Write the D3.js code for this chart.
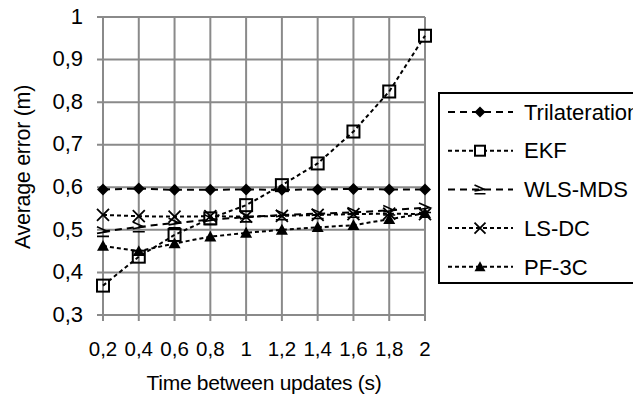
<!DOCTYPE html>
<html>
<head>
<meta charset="utf-8">
<script src="https://cdn.jsdelivr.net/npm/d3@7"></script>
<style>
  html, body { margin: 0; padding: 0; background: #fff; }
  svg { display: block; font-family: "Liberation Sans", Arial, sans-serif; }
</style>
</head>
<body>
<div id="chart"></div>
<script>
// data
const times = [0.2, 0.4, 0.6, 0.8, 1, 1.2, 1.4, 1.6, 1.8, 2];
const timeLabels = ["0,2", "0,4", "0,6", "0,8", "1", "1,2", "1,4", "1,6", "1,8", "2"];
const yTicks = [0.3, 0.4, 0.5, 0.6, 0.7, 0.8, 0.9, 1];

const trilateration = [0.595, 0.597, 0.594, 0.594, 0.595, 0.594, 0.595, 0.596, 0.595, 0.595];
const ekf = [0.369, 0.437, 0.488, 0.527, 0.558, 0.605, 0.656, 0.731, 0.825, 0.956];
const wlsMds = [0.496, 0.507, 0.516, 0.524, 0.530, 0.535, 0.538, 0.541, 0.546, 0.552];
const lsDc = [0.535, 0.532, 0.531, 0.532, 0.531, 0.533, 0.535, 0.537, 0.538, 0.537];
const pf3c = [0.462, 0.450, 0.468, 0.484, 0.493, 0.500, 0.506, 0.511, 0.525, 0.539];

const series = [
    {name: "Trilateration", values: trilateration, marker: "diamond", dash: "7,5"},
    {name: "EKF", values: ekf, marker: "square", dash: "4,3"},
    {name: "WLS-MDS", values: wlsMds, marker: "opentri", dash: "7,5"},
    {name: "LS-DC", values: lsDc, marker: "cross", dash: "4,3"},
    {name: "PF-3C", values: pf3c, marker: "triangle", dash: "4,3"}
];

const width = 633, height = 399;
const gridColor = "#8a8a8a";

const svg = d3.select("#chart").append("svg")
    .attr("width", width)
    .attr("height", height);

const x = d3.scalePoint().domain(times).range([103, 425]);
const y = d3.scaleLinear().domain([0.3, 1]).range([315, 17]);

// horizontal grid + y ticks
svg.append("g").selectAll("line")
    .data(yTicks)
    .enter().append("line")
    .attr("x1", 97).attr("x2", 425)
    .attr("y1", d => y(d)).attr("y2", d => y(d))
    .attr("stroke", gridColor).attr("stroke-width", 2);

// vertical grid + x ticks
svg.append("g").selectAll("line")
    .data(times)
    .enter().append("line")
    .attr("x1", d => x(d)).attr("x2", d => x(d))
    .attr("y1", y(1)).attr("y2", y(0.3) + 6)
    .attr("stroke", gridColor).attr("stroke-width", 2);

svg.append("g").selectAll("text")
    .data(yTicks)
    .enter().append("text")
    .attr("x", 83)
    .attr("y", d => y(d) - 1)
    .attr("dy", "0.35em")
    .attr("text-anchor", "end")
    .attr("font-size", 22)
    .text(d => d === 1 ? "1" : String(d).replace(".", ","));

svg.append("g").selectAll("text")
    .data(times)
    .enter().append("text")
    .attr("x", d => x(d))
    .attr("y", 349)
    .attr("dy", "0.35em")
    .attr("text-anchor", "middle")
    .attr("font-size", 20.5)
    .text((d, i) => timeLabels[i]);

svg.append("text")
    .attr("x", 264).attr("y", 383)
    .attr("dy", "0.35em")
    .attr("text-anchor", "middle")
    .attr("font-size", 21)
    .attr("letter-spacing", -0.3)
    .text("Time between updates (s)");

svg.append("text")
    .attr("transform", "translate(22,167) rotate(-90)")
    .attr("dy", "0.35em")
    .attr("text-anchor", "middle")
    .attr("font-size", 21.5)
    .attr("letter-spacing", -0.3)
    .text("Average error (m)");

function drawMarker(g, type, size) {
    const s = size / 2;
    if (type === "diamond") {
        g.append("path").attr("d", `M0,${-s}L${s},0L0,${s}L${-s},0Z`).attr("fill", "#000");
    } else if (type === "square") {
        g.append("rect").attr("x", -s).attr("y", -s).attr("width", size).attr("height", size)
            .attr("fill", "none").attr("stroke", "#000").attr("stroke-width", 2);
    } else if (type === "triangle") {
        g.append("path").attr("d", `M0,${-s}L${s},${s * 0.8}L${-s},${s * 0.8}Z`).attr("fill", "#000");
    } else if (type === "cross") {
        g.append("path").attr("d", `M${-s},${-s}L${s},${s}M${s},${-s}L${-s},${s}`)
            .attr("stroke", "#000").attr("stroke-width", 1.8).attr("fill", "none");
    } else if (type === "opentri") {
        g.append("path").attr("d", `M${-s},${-s * 0.8}L${s * 0.8},0L${-s},${s * 0.3}M${-s},${s * 0.8}L${s},${s * 0.8}`)
            .attr("stroke", "#000").attr("stroke-width", 1.6).attr("fill", "none");
    }
}

// series lines and markers
const line = d3.line()
    .x((d, i) => x(times[i]))
    .y(d => y(d));

series.forEach(s => {
    svg.append("path")
        .datum(s.values)
        .attr("d", line)
        .attr("fill", "none")
        .attr("stroke", "#000")
        .attr("stroke-width", 2)
        .attr("stroke-dasharray", s.dash);

    s.values.forEach((v, i) => {
        const g = svg.append("g").attr("transform", `translate(${x(times[i])},${y(v)})`);
        drawMarker(g, s.marker, 12);
    });
});

// legend
const legend = svg.append("g");
legend.append("rect")
    .attr("x", 439).attr("y", 93)
    .attr("width", 220).attr("height", 190)
    .attr("fill", "#fff").attr("stroke", "#000").attr("stroke-width", 2);

series.forEach((s, i) => {
    const ly = 112 + i * 38.7;
    legend.append("line")
        .attr("x1", 448).attr("x2", 513)
        .attr("y1", ly).attr("y2", ly)
        .attr("stroke", "#000").attr("stroke-width", 2)
        .attr("stroke-dasharray", s.dash);
    const g = legend.append("g").attr("transform", `translate(480,${ly})`);
    if (s.marker === "square") {
        g.append("rect").attr("x", -5).attr("y", -5).attr("width", 10).attr("height", 10).attr("fill", "#fff");
    }
    drawMarker(g, s.marker, s.marker === "square" ? 10 : 11);
    legend.append("text")
        .attr("x", 524).attr("y", ly)
        .attr("dy", "0.35em")
        .attr("font-size", 22)
        .text(s.name);
});
</script>
</body>
</html>
